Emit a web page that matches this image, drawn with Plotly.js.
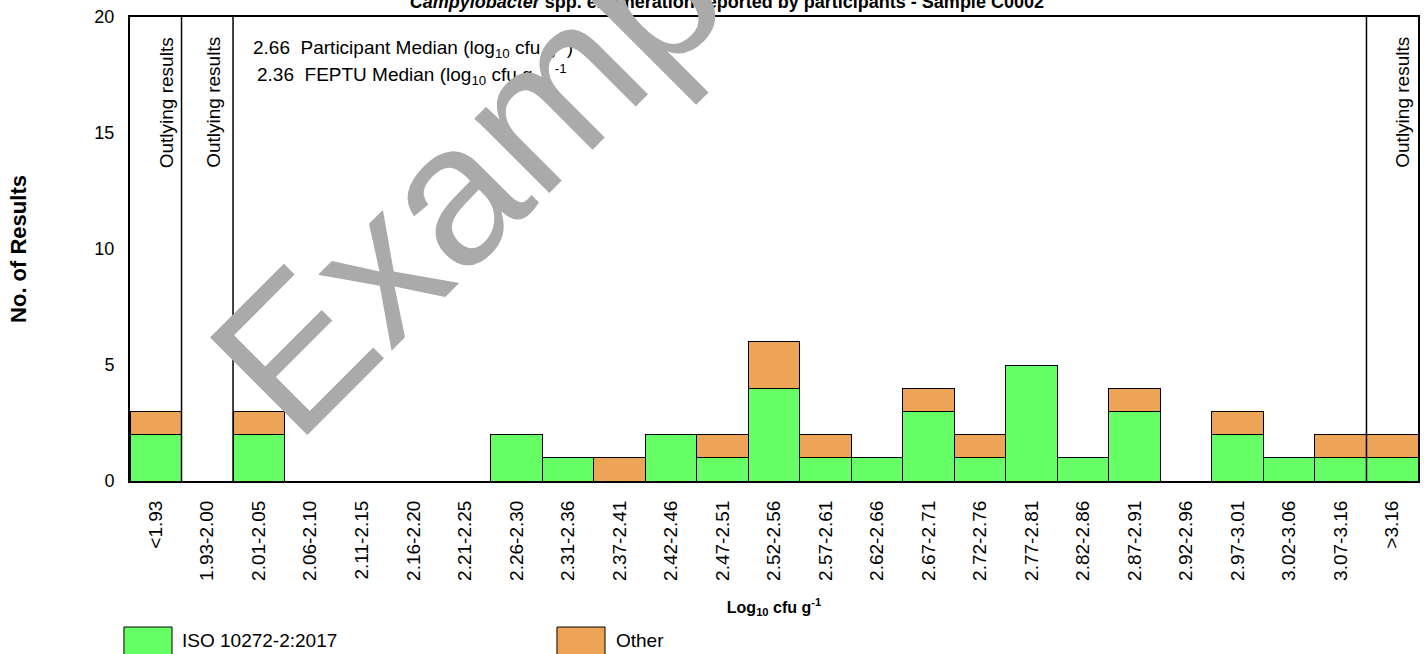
<!DOCTYPE html>
<html>
<head>
<meta charset="utf-8">
<script src="https://cdn.plot.ly/plotly-3.0.1.min.js"></script>
<style>html,body{margin:0;padding:0;background:#fff;}#chart{width:1428px;height:654px;}</style>
</head>
<body>
<div id="chart"></div>
<script>
const categories = ['<1.93','1.93-2.00','2.01-2.05','2.06-2.10','2.11-2.15','2.16-2.20','2.21-2.25','2.26-2.30','2.31-2.36','2.37-2.41','2.42-2.46','2.47-2.51','2.52-2.56','2.57-2.61','2.62-2.66','2.67-2.71','2.72-2.76','2.77-2.81','2.82-2.86','2.87-2.91','2.92-2.96','2.97-3.01','3.02-3.06','3.07-3.16','>3.16'];
const isoCounts   = [2,0,2,0,0,0,0,2,1,0,2,1,4,1,1,3,1,5,1,3,0,2,1,1,1];
const otherCounts = [1,0,1,0,0,0,0,0,0,1,0,1,2,1,0,1,1,0,0,1,0,1,0,1,1];
const seriesNames = ['ISO 10272-2:2017','Other'];
const seriesColors = ['#66ff66','#eda456'];
const outlyingCats = ['<1.93','1.93-2.00','>3.16'];
const outlyingLines = [0.5, 1.5, 23.5];
const participantMedian = '2.66';
const feptuMedian = '2.36';
const chartTitle = '<b><i>Campylobacter</i> spp. enumeration reported by participants - Sample C0002</b>';

const FONT = 'Liberation Sans, Arial, sans-serif';

const traces = [
  {type:'bar', name:seriesNames[0], x:categories, y:isoCounts,
   marker:{color:seriesColors[0], line:{color:'#000', width:1}}, showlegend:false, hoverinfo:'skip'},
  {type:'bar', name:seriesNames[1], x:categories, y:otherCounts,
   marker:{color:seriesColors[1], line:{color:'#000', width:1}}, showlegend:false, hoverinfo:'skip'}
];

const shapes = outlyingLines.map(v => ({type:'line', xref:'x', yref:'paper', x0:v, x1:v, y0:0, y1:1,
  line:{color:'#000', width:1.5}}));
// legend boxes
shapes.push({type:'rect', xref:'paper', yref:'paper', x0:-0.0047, x1:0.0326, y0:-0.3147, y1:-0.40,
  fillcolor:seriesColors[0], line:{color:'#000', width:1}});
shapes.push({type:'rect', xref:'paper', yref:'paper', x0:0.3315, x1:0.3688, y0:-0.3147, y1:-0.40,
  fillcolor:seriesColors[1], line:{color:'#000', width:1}});

const outShift = [11, 6, 10];
const annotations = outlyingCats.map((c,i) => ({xref:'x', yref:'y', x:c, y:20, xanchor:'center', yanchor:'top',
  xshift:outShift[i], yshift:-18, textangle:-90, showarrow:false, text:'Outlying results',
  font:{family:FONT, size:19, color:'#000'}}));
annotations.push({xref:'paper', yref:'paper', x:0.094, y:0.935, xanchor:'left', yanchor:'middle', showarrow:false,
  text: participantMedian + '  Participant Median (log<sub>10</sub> cfu g  ) <sup>-1</sup>', font:{family:FONT, size:19, color:'#000'}});
annotations.push({xref:'paper', yref:'paper', x:0.0967, y:0.877, xanchor:'left', yanchor:'middle', showarrow:false,
  text: feptuMedian + '  FEPTU Median (log<sub>10</sub> cfu g  ) <sup>-1</sup>', font:{family:FONT, size:19, color:'#000'}});
annotations.push({xref:'paper', yref:'paper', x:0.0388, y:-0.3427, xanchor:'left', yanchor:'middle', showarrow:false,
  text: seriesNames[0], font:{family:FONT, size:19, color:'#000'}});
annotations.push({xref:'paper', yref:'paper', x:0.3758, y:-0.3427, xanchor:'left', yanchor:'middle', showarrow:false,
  text: seriesNames[1], font:{family:FONT, size:19, color:'#000'}});
// watermark
annotations.push({xref:'paper', yref:'paper', x:0.304, y:0.772, xanchor:'center', yanchor:'middle', showarrow:false,
  textangle:-45, text:'Example', font:{family:FONT, size:200, color:'#aaaaaa'}});

const layout = {
  width:1428, height:654,
  margin:{l:130, r:10, t:17, b:173},
  paper_bgcolor:'#fff', plot_bgcolor:'#fff',
  font:{family:FONT, color:'#000'},
  title:{text:chartTitle, font:{family:FONT, size:18, color:'#000'}, x:0.509, xref:'container', xanchor:'center',
         y:0.998, yref:'container', yanchor:'middle'},
  barmode:'stack', bargap:0,
  xaxis:{type:'category', showline:true, linecolor:'#000', linewidth:2, mirror:true, showgrid:false, zeroline:false,
         ticks:'', tickangle:-90, tickfont:{family:FONT, size:19, color:'#000'}, ticklabelstandoff:10,
         title:{text:'<b>Log<sub>10</sub> cfu g<sup>-1</sup></b>', font:{family:FONT, size:16, color:'#000'}, standoff:22}},
  yaxis:{range:[0,20], dtick:5, showline:true, linecolor:'#000', linewidth:2, mirror:true, showgrid:false, zeroline:false,
         ticks:'', tickfont:{family:FONT, size:18, color:'#000'}, ticklabelstandoff:10,
         title:{text:'<b>No. of Results</b>', font:{family:FONT, size:22, color:'#000'}, standoff:62}},
  shapes:shapes,
  annotations:annotations,
  showlegend:false
};

Plotly.newPlot('chart', traces, layout, {displayModeBar:false, staticPlot:true});
</script>
</body>
</html>
